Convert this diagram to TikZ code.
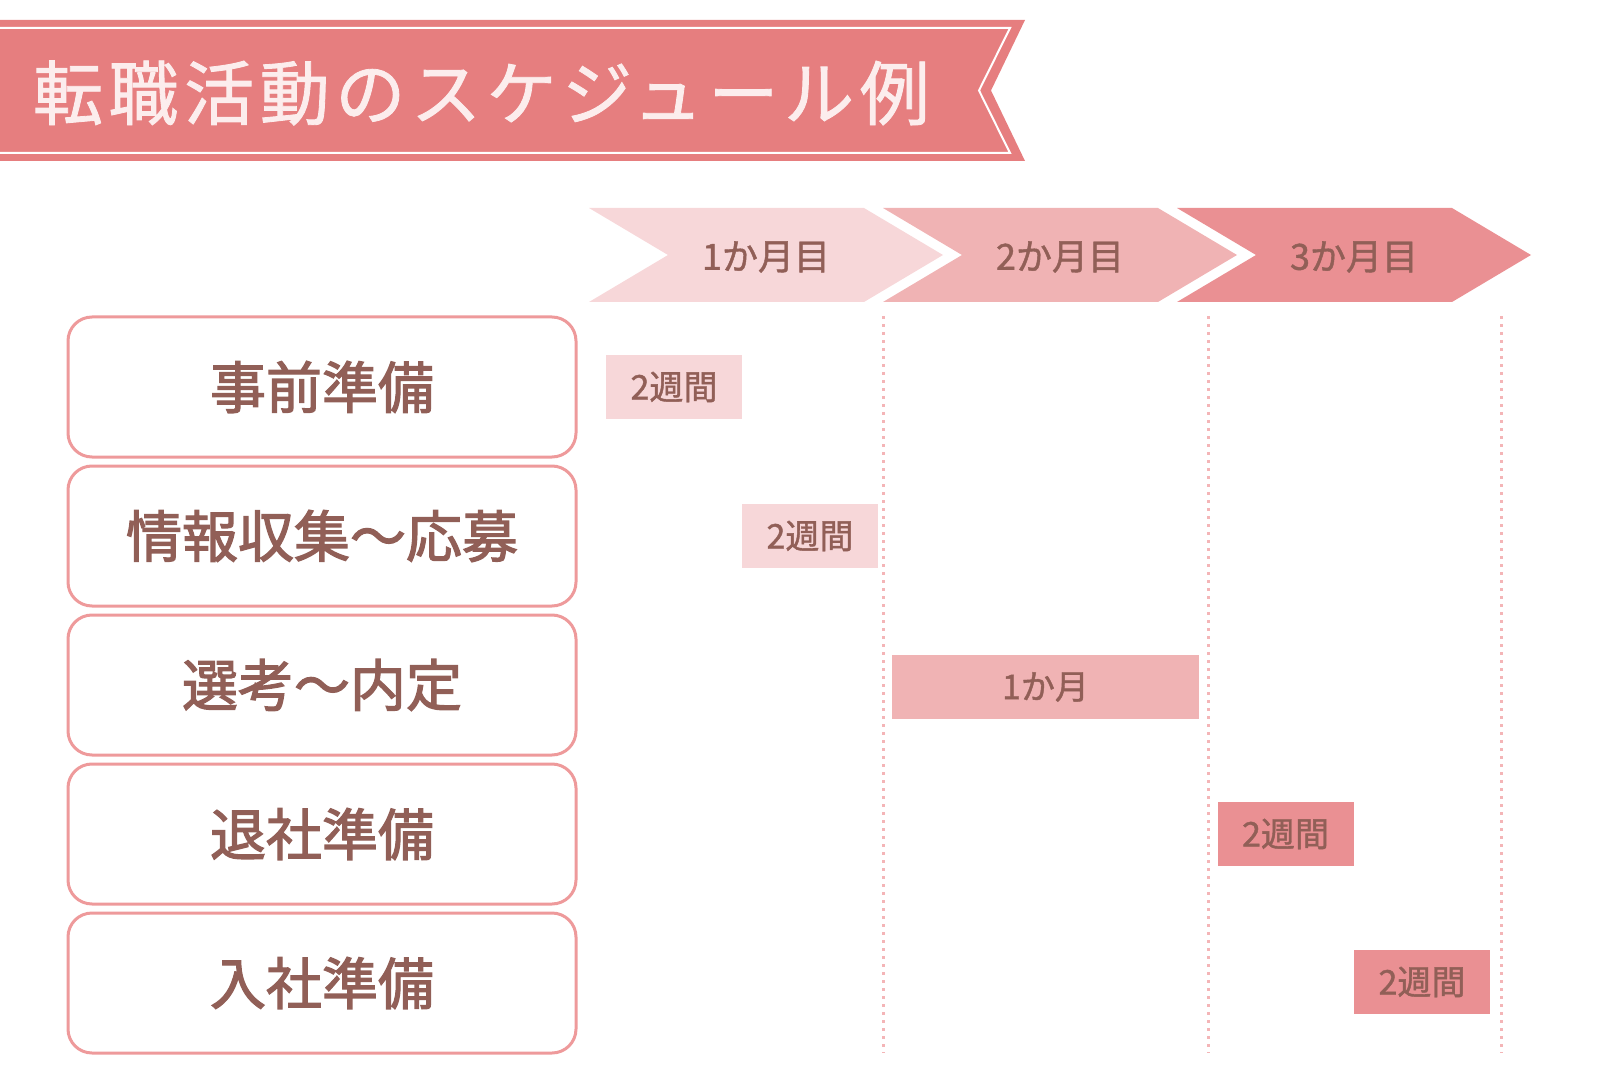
\documentclass[tikz,border=0pt]{standalone}
\usepackage{fontspec}
\setmainfont{Noto Sans CJK JP}[FakeBold=1.2]
\newfontfamily\titlefont{Noto Sans CJK JP}[FakeBold=1.2, LetterSpace=8]
\newfontfamily\labelfont{Noto Sans CJK JP}[FakeBold=2.2]
\definecolor{banner}{HTML}{E67E7F}
\definecolor{titletext}{HTML}{FCEDED}
\definecolor{mon1}{HTML}{F7D7D9}
\definecolor{mon2}{HTML}{F0B3B4}
\definecolor{mon3}{HTML}{EA9093}
\definecolor{boxline}{HTML}{EE9A9B}
\definecolor{guideline}{HTML}{F4B5B7}
\definecolor{ink}{HTML}{915F57}
\begin{document}
\begin{tikzpicture}[x=0.5pt, y=-0.5pt,
    task/.style={draw=boxline, line width=1.5pt, rounded corners=12pt,
      minimum width=254pt, minimum height=70pt,
      font=\labelfont\fontsize{28}{28}\selectfont, text=ink},
    span/.style={minimum width=68pt, minimum height=32pt, inner sep=0pt,
      font=\fontsize{17}{17}\selectfont, text=ink},
    month/.style={font=\fontsize{18}{18}\selectfont, text=ink},
    guide/.style={draw=guideline, line width=1.5pt, dash pattern=on 1.5pt off 2.5pt}
  ]
  \useasboundingbox (0,0) rectangle (1600,1080);

  % title banner
  \fill[banner] (0,20) -- (1025,20) -- (991,90.5) -- (1025,161) -- (0,161) -- cycle;
  \draw[white, line width=1pt] (0,28) -- (1010,28) -- (979,90.5) -- (1010,153) -- (0,153);
  \node[anchor=west, font=\titlefont\fontsize{35}{35}\selectfont, text=titletext] (title) at (26,93) {転職活動のスケジュール例};

  % month arrows
  \foreach \i/\c in {0/mon1, 1/mon2, 2/mon3}
    \fill[\c] ({589+294*\i},208) -- ++(275,0) -- ++(79,47) -- ++(-79,47) -- ++(-275,0) -- ++(79,-47) -- cycle;
  \node[month] (m1) at (766,257) {1か月目};
  \node[month] (m2) at (1060,257) {2か月目};
  \node[month] (m3) at (1354,257) {3か月目};

  \foreach \x in {883,1208,1501}
    \draw[guide] (\x,316) -- (\x,1053);

  % tasks
  \node[task] (prep) at (322,387) {事前準備};
  \node[task] (apply) at (322,536) {情報収集～応募};
  \node[task] (select) at (322,685) {選考～内定};
  \node[task] (quit) at (322,834) {退社準備};
  \node[task] (join) at (322,983) {入社準備};

  \node[span, fill=mon1] (w1) at (674,387) {2週間};
  \node[span, fill=mon1] (w2) at (810,536) {2週間};
  \node[span, fill=mon2, minimum width=153.5pt] (w3) at (1045.5,687) {1か月};
  \node[span, fill=mon3] (w4) at (1285.5,834) {2週間};
  \node[span, fill=mon3] (w5) at (1422,982) {2週間};
\end{tikzpicture}
\end{document}
